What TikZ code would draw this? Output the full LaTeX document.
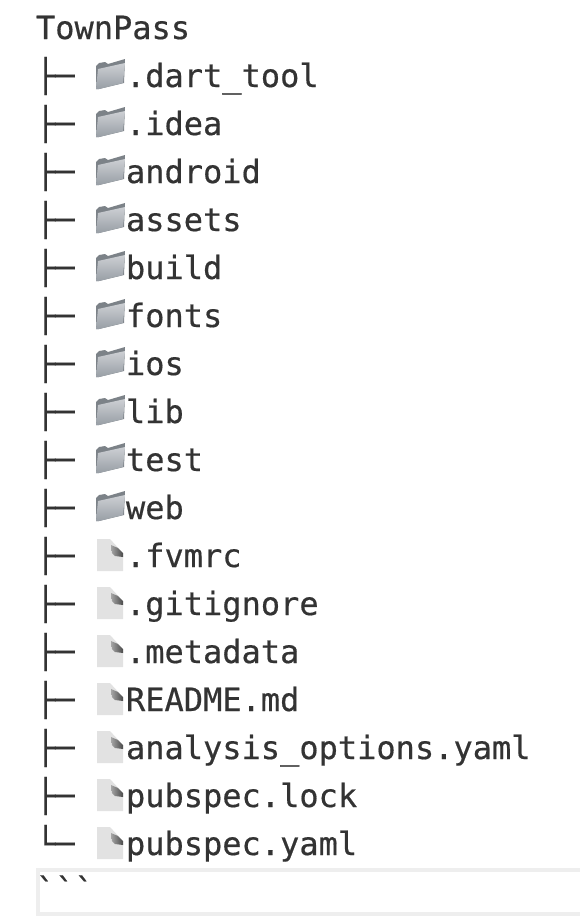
\documentclass[tikz,border=0pt]{standalone}
\usepackage{fontspec}
\setmonofont[RawFeature={embolden=0.5}]{DejaVu Sans Mono}
\usepackage{tikz}
\usetikzlibrary{positioning}

\definecolor{inkgray}{HTML}{333333}
\definecolor{fencegray}{HTML}{EEEEEE}
\definecolor{tabgray}{HTML}{7C8288}
\definecolor{folderlight}{HTML}{CDD0D4}
\definecolor{folderdark}{HTML}{989EA5}
\definecolor{pagegray}{HTML}{E2E2E2}
\definecolor{foldgray}{HTML}{4A4A4A}

\tikzset{
	entry/.style={anchor=base west,inner sep=0pt,outer sep=0pt,text=inkgray,font=\fontsize{32bp}{38bp}\selectfont\ttfamily},
	folderpic/.pic={
		\fill [tabgray,yscale=-1] (-14bp,-10bp) -- (-11bp,-13bp) -- (-5bp,-14bp) -- (-2bp,-12bp) -- (15bp,-17bp) -- (14bp,7bp) -- (-11bp,13bp) -- (-14bp,13bp) -- cycle;
		\shade [top color=folderlight,bottom color=folderdark,yscale=-1] (-12bp,-7bp) -- (15bp,-13bp) -- (13bp,7bp) -- (-11bp,13bp) -- (-14bp,13bp) -- cycle;
	},
	filepic/.pic={
		\fill [pagegray,yscale=-1] (-13bp,-17bp) -- (0bp,-17bp) -- (13bp,-3bp) -- (13bp,15bp) -- (-13bp,15bp) -- cycle;
		\shade [left color=gray!70,right color=foldgray,yscale=-1] (1bp,-11bp) -- (8bp,-8bp) -- (13bp,-3bp) -- (13bp,1bp) -- (5bp,0bp) -- (2bp,-3bp) -- cycle;
	},
}

\begin{document}
\begin{tikzpicture}
	\useasboundingbox (0bp,0bp) rectangle (580bp,-916bp);

	\node (root) at (36bp,-39bp) [entry] {TownPass};

	\node (t1)  at (36bp,-87bp)  [entry] {├─};
	\node (t2)  at (36bp,-135bp) [entry] {├─};
	\node (t3)  at (36bp,-183bp) [entry] {├─};
	\node (t4)  at (36bp,-231bp) [entry] {├─};
	\node (t5)  at (36bp,-279bp) [entry] {├─};
	\node (t6)  at (36bp,-327bp) [entry] {├─};
	\node (t7)  at (36bp,-375bp) [entry] {├─};
	\node (t8)  at (36bp,-423bp) [entry] {├─};
	\node (t9)  at (36bp,-471bp) [entry] {├─};
	\node (t10) at (36bp,-519bp) [entry] {├─};
	\node (t11) at (36bp,-567bp) [entry] {├─};
	\node (t12) at (36bp,-615bp) [entry] {├─};
	\node (t13) at (36bp,-663bp) [entry] {├─};
	\node (t14) at (36bp,-711bp) [entry] {├─};
	\node (t15) at (36bp,-759bp) [entry] {├─};
	\node (t16) at (36bp,-807bp) [entry] {├─};
	\node (t17) at (36bp,-855bp) [entry] {└─};

	\pic at (110bp,-76bp)  {folderpic};
	\pic at (110bp,-124bp) {folderpic};
	\pic at (110bp,-172bp) {folderpic};
	\pic at (110bp,-220bp) {folderpic};
	\pic at (110bp,-268bp) {folderpic};
	\pic at (110bp,-316bp) {folderpic};
	\pic at (110bp,-364bp) {folderpic};
	\pic at (110bp,-412bp) {folderpic};
	\pic at (110bp,-460bp) {folderpic};
	\pic at (110bp,-508bp) {folderpic};
	\pic at (110bp,-556bp) {filepic};
	\pic at (110bp,-604bp) {filepic};
	\pic at (110bp,-652bp) {filepic};
	\pic at (110bp,-700bp) {filepic};
	\pic at (110bp,-748bp) {filepic};
	\pic at (110bp,-796bp) {filepic};
	\pic at (110bp,-844bp) {filepic};

	\node (dart)     at (126bp,-87bp)  [entry] {.dart\_tool};
	\node (idea)     at (126bp,-135bp) [entry] {.idea};
	\node (android)  at (126bp,-183bp) [entry] {android};
	\node (assets)   at (126bp,-231bp) [entry] {assets};
	\node (build)    at (126bp,-279bp) [entry] {build};
	\node (fonts)    at (126bp,-327bp) [entry] {fonts};
	\node (ios)      at (126bp,-375bp) [entry] {ios};
	\node (lib)      at (126bp,-423bp) [entry] {lib};
	\node (test)     at (126bp,-471bp) [entry] {test};
	\node (web)      at (126bp,-519bp) [entry] {web};
	\node (fvmrc)    at (126bp,-567bp) [entry] {.fvmrc};
	\node (ignore)   at (126bp,-615bp) [entry] {.gitignore};
	\node (metadata) at (126bp,-663bp) [entry] {.metadata};
	\node (readme)   at (126bp,-711bp) [entry] {README.md};
	\node (analysis) at (126bp,-759bp) [entry] {analysis\_options.yaml};
	\node (lock)     at (126bp,-807bp) [entry] {pubspec.lock};
	\node (yaml)     at (126bp,-855bp) [entry] {pubspec.yaml};

	\draw [fencegray,line width=4bp] (580bp,-870bp) -- (38bp,-870bp) -- (38bp,-914bp) -- (580bp,-914bp);
	\node (fence) at (36bp,-901bp) [entry] {\char`\`\char`\`\char`\`};
\end{tikzpicture}
\end{document}
